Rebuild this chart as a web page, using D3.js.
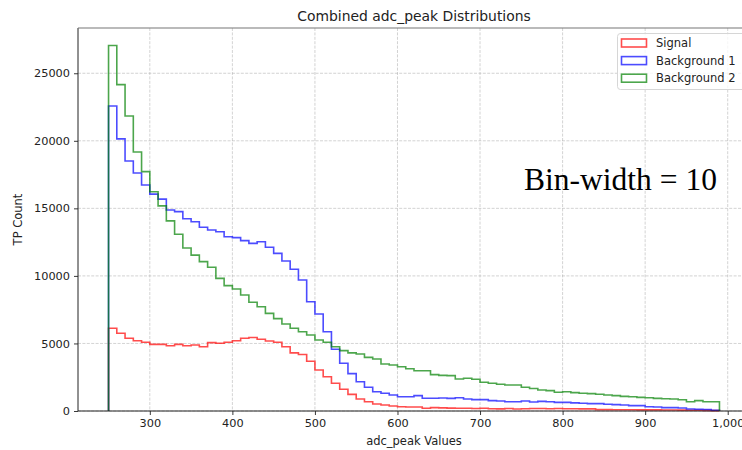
<!DOCTYPE html>
<html>
<head>
<meta charset="utf-8">
<script src="https://cdn.jsdelivr.net/npm/d3@7"></script>
<style>
  html, body { margin: 0; padding: 0; background: #fff; }
  svg { display: block; font-family: "DejaVu Sans", sans-serif; }
</style>
</head>
<body>
<svg id="chart" width="742" height="450"></svg>
<script>
// Histogram bins: left edges from 250 to 980, width 10
const binStart = 250;
const binWidth = 10;

// Counts per bin (74 bins)
const signal = [
  6120, 5750, 5380, 5205, 5085, 4935, 4935, 4835, 4935, 4835,
  4885, 4760, 5060, 5010, 5085, 5205, 5380, 5440, 5310, 5185,
  5085, 4760, 4300, 4180, 3680, 3035, 2540, 2050, 1605, 1230,
  890, 690, 520, 445, 370, 320, 300, 300, 200, 250,
  230, 210, 200, 200, 190, 200, 170, 160, 180, 150,
  170, 190, 180, 170, 180, 170, 170, 160, 160, 100,
  100, 95, 90, 90, 85, 80, 80, 75, 70, 65,
  60, 55, 50, 30
];
const background1 = [
  22580, 20140, 18510, 17620, 16730, 16050, 15680, 14880, 14760, 14230,
  14010, 13600, 13400, 13270, 12900, 12830, 12610, 12410, 12530, 12120,
  11670, 11100, 10490, 9700, 8090, 7180, 5870, 4570, 3530, 2770,
  2170, 1755, 1430, 1310, 1185, 1060, 1060, 1135, 940, 940,
  960, 935, 985, 890, 840, 840, 765, 740, 690, 690,
  740, 665, 715, 690, 640, 640, 600, 570, 545, 545,
  495, 470, 445, 395, 395, 320, 300, 250, 250, 225,
  150, 125, 110, 60
];
const background2 = [
  27050, 24160, 21840, 19170, 17720, 16230, 15180, 14070, 13080, 12060,
  11540, 11055, 10640, 9820, 9280, 9030, 8590, 8050, 7720, 7230,
  6840, 6440, 6120, 5870, 5630, 5260, 5090, 4760, 4470, 4300,
  4220, 3970, 3850, 3480, 3400, 3280, 3130, 2980, 2980, 2690,
  2640, 2615, 2370, 2420, 2345, 2125, 2050, 1975, 1925, 1925,
  1755, 1660, 1555, 1505, 1385, 1430, 1360, 1310, 1285, 1235,
  1185, 1135, 1085, 1060, 1010, 985, 935, 910, 885, 835,
  690, 765, 690, 690
];

const seriesNames = ["Signal", "Background 1", "Background 2"];
const seriesColors = ["#ff0000", "#0000ff", "#008000"];
const xTicks = [300, 400, 500, 600, 700, 800, 900, 1000];
const yTicks = [0, 5000, 10000, 15000, 20000, 25000];

const svg = d3.select("#chart");
const margin = { left: 78, top: 28, right: -8, bottom: 39 };
const W = 742, H = 450;
const plotLeft = margin.left, plotRight = W - margin.right;
const plotTop = margin.top, plotBottom = H - margin.bottom;

const x = d3.scaleLinear().domain([213, 1027]).range([plotLeft, plotRight]);
const y = d3.scaleLinear().domain([0, 28350]).range([plotBottom, plotTop]);

// Grid
const grid = svg.append("g");
grid.selectAll("line.gx").data(xTicks).join("line")
  .attr("x1", d => x(d)).attr("x2", d => x(d))
  .attr("y1", plotTop).attr("y2", plotBottom)
  .attr("stroke", "#b0b0b0").attr("stroke-opacity", 0.7)
  .attr("stroke-width", 0.8).attr("stroke-dasharray", "3,1.4");
grid.selectAll("line.gy").data(yTicks).join("line")
  .attr("x1", plotLeft).attr("x2", plotRight)
  .attr("y1", d => y(d)).attr("y2", d => y(d))
  .attr("stroke", "#b0b0b0").attr("stroke-opacity", 0.7)
  .attr("stroke-width", 0.8).attr("stroke-dasharray", "3,1.4");

// Step outlines
function stepPoints(vals) {
  const pts = [[binStart, 0]];
  vals.forEach((v, i) => pts.push([binStart + i * binWidth, v]));
  const end = binStart + vals.length * binWidth;
  pts.push([end, vals[vals.length - 1]]);
  pts.push([end, 0]);
  return pts;
}
const stepLine = d3.line()
  .x(d => x(d[0])).y(d => y(d[1]))
  .curve(d3.curveStepAfter);

[signal, background1, background2].forEach((vals, i) => {
  svg.append("path")
    .attr("d", stepLine(stepPoints(vals)))
    .attr("fill", "none")
    .attr("stroke", seriesColors[i])
    .attr("stroke-opacity", 0.7)
    .attr("stroke-width", 1.6)
    .attr("stroke-linejoin", "miter");
});

// Axes
const xAxis = svg.append("g")
  .attr("transform", `translate(0,${plotBottom})`)
  .call(d3.axisBottom(x).tickValues(xTicks).tickSize(4).tickPadding(4));
const yAxis = svg.append("g")
  .attr("transform", `translate(${plotLeft},0)`)
  .call(d3.axisLeft(y).tickValues(yTicks).tickSize(4).tickPadding(4).tickFormat(d3.format("d")));
[xAxis, yAxis].forEach(a => {
  a.select(".domain").remove();
  a.selectAll("text").attr("font-family", "DejaVu Sans").attr("font-size", 11.3).attr("fill", "#222");
  a.selectAll("line").attr("stroke", "#222").attr("stroke-width", 0.9);
});

// Spines
svg.append("line").attr("x1", plotLeft).attr("x2", plotLeft)
  .attr("y1", plotTop).attr("y2", plotBottom).attr("stroke", "#222").attr("stroke-width", 1);
svg.append("line").attr("x1", plotLeft).attr("x2", plotRight)
  .attr("y1", plotBottom).attr("y2", plotBottom).attr("stroke", "#222").attr("stroke-width", 1);
svg.append("line").attr("x1", plotLeft).attr("x2", plotRight)
  .attr("y1", plotTop).attr("y2", plotTop).attr("stroke", "#777").attr("stroke-width", 1.2);

// Titles and labels
const cx = (plotLeft + plotRight) / 2;
svg.append("text").attr("x", cx).attr("y", 21)
  .attr("text-anchor", "middle").attr("font-size", 13.9).attr("fill", "#222")
  .text("Combined adc_peak Distributions");
svg.append("text").attr("x", cx).attr("y", 445)
  .attr("text-anchor", "middle").attr("font-size", 11.5).attr("fill", "#222")
  .text("adc_peak Values");
svg.append("text")
  .attr("transform", `translate(22,${(plotTop + plotBottom) / 2}) rotate(-90)`)
  .attr("text-anchor", "middle").attr("font-size", 11.5).attr("fill", "#222")
  .text("TP Count");

// Annotation
svg.append("text").attr("x", 620.5).attr("y", 190)
  .attr("text-anchor", "middle")
  .attr("font-family", "Liberation Serif, Times New Roman, serif")
  .attr("font-size", 31.5).attr("fill", "#000")
  .text("Bin-width = 10");

// Legend
const lg = svg.append("g");
lg.append("rect").attr("x", 617.5).attr("y", 33.5).attr("width", 140).attr("height", 56)
  .attr("rx", 3).attr("fill", "#fff").attr("fill-opacity", 0.8)
  .attr("stroke", "#d6d6d6").attr("stroke-width", 1);
seriesNames.forEach((name, i) => {
  const yy = 43 + i * 17.6;
  lg.append("rect").attr("x", 621.5).attr("y", yy - 4).attr("width", 25).attr("height", 8)
    .attr("fill", "none").attr("stroke", seriesColors[i]).attr("stroke-opacity", 0.7)
    .attr("stroke-width", 1.6);
  lg.append("text").attr("x", 656).attr("y", yy + 4)
    .attr("font-size", 11.5).attr("fill", "#222").text(name);
});
</script>
</body>
</html>
